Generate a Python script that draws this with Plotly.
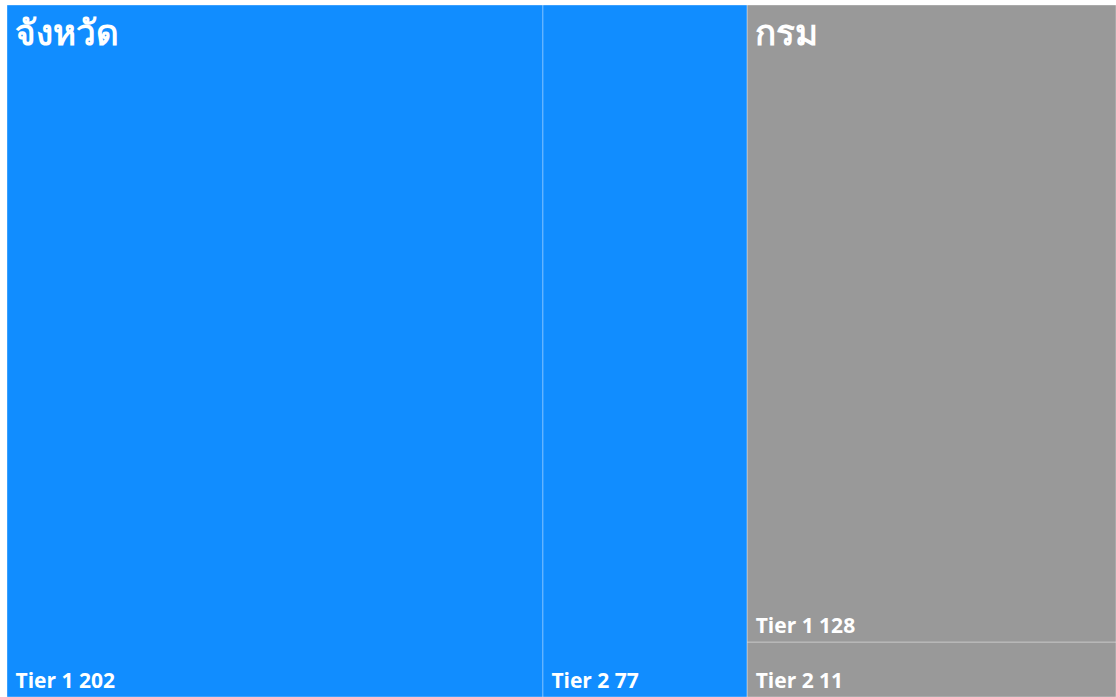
import plotly.graph_objects as go

# groups and their tiers
groups = ["จังหวัด", "กรม"]
group_colors = ["#118DFF", "#999999"]
tiers = ["Tier 1", "Tier 2"]
values_jangwat = [202, 77]
values_krom = [128, 11]

leaf_ids, leaf_parents, leaf_labels, leaf_values, leaf_colors = [], [], [], [], []
for g, c, vals in zip(groups, group_colors, [values_jangwat, values_krom]):
    for t, v in zip(tiers, vals):
        leaf_ids.append(f"{g}/{t}")
        leaf_parents.append(g)
        leaf_labels.append(t)
        leaf_values.append(v)
        leaf_colors.append(c)

group_totals = [sum(values_jangwat), sum(values_krom)]

ids = groups + leaf_ids
parents = ["", ""] + leaf_parents
labels = groups + leaf_labels
values = group_totals + leaf_values
colors = group_colors + leaf_colors
# a leading nbsp gives the small left inset seen in the original
texts = ["", ""] + [f"&nbsp;<b>{l} {v}</b>" for l, v in zip(leaf_labels, leaf_values)]

font_family = "Segoe UI, Open Sans, Noto Sans, DejaVu Sans, sans-serif"

fig = go.Figure()

# main treemap: coloured tiles, leaf labels at bottom left
fig.add_trace(go.Treemap(
    ids=ids, parents=parents, labels=labels, values=values,
    branchvalues="total",
    text=texts, textinfo="text",
    textposition="bottom left",
    textfont=dict(family=font_family, size=21, color="white"),
    marker=dict(colors=colors, line=dict(width=1, color="rgba(255,255,255,0.35)"),
                pad=dict(t=0, l=0, r=0, b=0)),
    tiling=dict(packing="squarify", pad=0),
    pathbar=dict(visible=False),
    sort=True,
))

# overlay treemap of the groups only: transparent, group labels at top left
fig.add_trace(go.Treemap(
    ids=groups, parents=["", ""], labels=groups, values=group_totals,
    branchvalues="total",
    text=[f'<span style="font-size:20px">&nbsp;</span><b>{g}</b>' for g in groups],
    textinfo="text",
    textposition="top left",
    textfont=dict(family=font_family, size=35, color="white"),
    marker=dict(colors=["rgba(0,0,0,0)"] * 2, line=dict(width=0),
                pad=dict(t=0, l=0, r=0, b=0)),
    tiling=dict(packing="squarify", pad=0),
    pathbar=dict(visible=False),
    hoverinfo="skip",
    sort=True,
))

fig.update_layout(
    width=1116, height=697,
    margin=dict(l=7, r=0, t=5, b=0),
    paper_bgcolor="white",
    font=dict(family=font_family),
)

fig.write_html(
    "out.html",
    config={"displayModeBar": False},
    post_script="document.body.style.margin='0px';",
)
